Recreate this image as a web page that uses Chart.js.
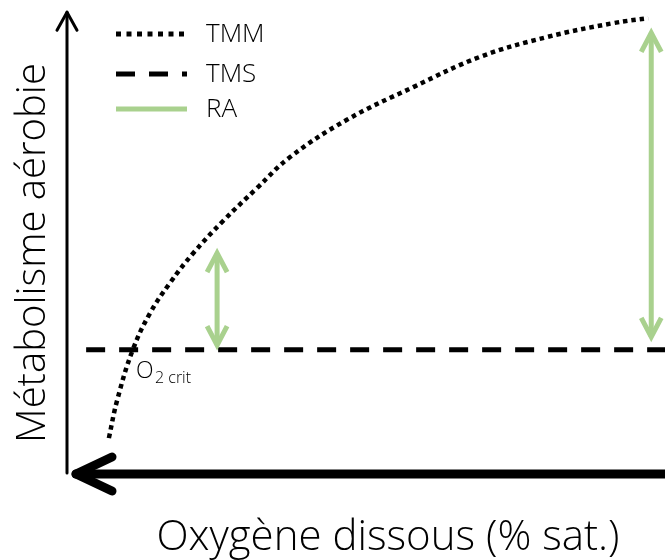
<!DOCTYPE html>
<html lang="fr">
<head>
<meta charset="utf-8">
<title>Métabolisme aérobie</title>
<script src="https://cdn.jsdelivr.net/npm/chart.js@4.4.1/dist/chart.umd.min.js"></script>
<style>
  html, body { margin: 0; padding: 0; background: #fff; }
  #cadre { width: 665px; height: 560px; }
</style>
</head>
<body>
<div id="cadre"><canvas id="schema" width="665" height="560"></canvas></div>
<script>
// Courbe TMM (taux métabolique maximal) en fonction de l'oxygène dissous
const tmmX = [7.0, 8.4, 11.0, 13.9, 17.2, 21.1, 26.1, 31.8, 37.3, 46.8, 57.9, 69.1, 80.3, 91.3, 97.2];
const tmmY = [7.8, 16.1, 27.0, 35.0, 41.5, 48.0, 55.0, 62.2, 68.9, 77.0, 84.1, 90.7, 95.0, 98.0, 99.1];

// TMS (taux métabolique standard), constant
const tmsX = [3.2, 100];
const tmsY = 27.0;

// Flèches RA (registre aérobie) : position et bornes
const raX = [25.1, 97.7];
const raBas = [28.0, 29.8];
const raHaut = [48.0, 95.9];

const legende = ['TMM', 'TMS', 'RA'];
const titreX = 'Oxygène dissous (% sat.)';
const titreY = 'Métabolisme aérobie';

const vert = '#a9d18e';
const police = '"Open Sans", "DejaVu Sans", sans-serif';

// points de la flèche RA : deux segments séparés par un trou
const raPoints = [];
raX.forEach((x, i) => {
    raPoints.push({ x: x, y: raBas[i] });
    raPoints.push({ x: x, y: raHaut[i] });
    if (i < raX.length - 1) raPoints.push({ x: (x + raX[i + 1]) / 2, y: null });
});

/**
 * Trace une pointe de flèche ouverte (chevron)
 */
function chevron(ctx, x, y, dx, dy, sens) {
    ctx.beginPath();
    if (sens === 'haut' || sens === 'bas') {
        const s = sens === 'haut' ? 1 : -1;
        ctx.moveTo(x - dx, y + s * dy);
        ctx.lineTo(x, y);
        ctx.lineTo(x + dx, y + s * dy);
    } else {
        ctx.moveTo(x + dx, y - dy);
        ctx.lineTo(x, y);
        ctx.lineTo(x + dx, y + dy);
    }
    ctx.stroke();
}

// axes fléchés, pointes RA, légende et textes
const decor = {
    id: 'decor',
    beforeDatasetsDraw(chart) {
        const ctx = chart.ctx;
        const sx = chart.scales.x, sy = chart.scales.y;
        const x0 = sx.getPixelForValue(0), y0 = sy.getPixelForValue(0);
        ctx.save();
        ctx.strokeStyle = '#000';
        ctx.lineJoin = 'round';
        ctx.lineCap = 'round';
        // axe vertical
        ctx.lineWidth = 3;
        ctx.beginPath();
        ctx.moveTo(x0, y0 - 1);
        ctx.lineTo(x0, sy.getPixelForValue(100.4));
        ctx.stroke();
        chevron(ctx, x0, sy.getPixelForValue(100.4), 10, 18, 'haut');
        // axe horizontal, pointe vers la gauche
        const bout = x0 + 9;
        ctx.lineWidth = 9;
        ctx.beginPath();
        ctx.moveTo(sx.getPixelForValue(100) + 10, y0);
        ctx.lineTo(bout, y0);
        ctx.stroke();
        chevron(ctx, bout, y0, 36, 17, 'gauche');
        ctx.restore();
    },
    afterDatasetsDraw(chart) {
        const ctx = chart.ctx;
        const sx = chart.scales.x, sy = chart.scales.y;
        ctx.save();
        // pointes des flèches RA
        ctx.strokeStyle = vert;
        ctx.lineWidth = 5;
        ctx.lineJoin = 'miter';
        ctx.lineCap = 'butt';
        raX.forEach((x, i) => {
            const px = sx.getPixelForValue(x);
            chevron(ctx, px, sy.getPixelForValue(raHaut[i]), 10, 19, 'haut');
            chevron(ctx, px, sy.getPixelForValue(raBas[i]), 10, 19, 'bas');
        });

        // légende
        const styles = [
            { couleur: '#000', largeur: 5, tirets: [5, 5.5] },
            { couleur: '#000', largeur: 5, tirets: [19, 14] },
            { couleur: vert, largeur: 5, tirets: [] }
        ];
        const lignesY = [34, 74, 109];
        ctx.textBaseline = 'middle';
        ctx.textAlign = 'left';
        ctx.font = '300 26px ' + police;
        legende.forEach((nom, i) => {
            const st = styles[i];
            ctx.strokeStyle = st.couleur;
            ctx.lineWidth = st.largeur;
            ctx.setLineDash(st.tirets);
            ctx.beginPath();
            ctx.moveTo(116, lignesY[i]);
            ctx.lineTo(187, lignesY[i]);
            ctx.stroke();
            ctx.setLineDash([]);
            ctx.fillStyle = '#000';
            ctx.fillText(nom, 206, lignesY[i] + 1);
        });

        // étiquette O2 crit
        ctx.textBaseline = 'alphabetic';
        ctx.font = '300 23px ' + police;
        ctx.fillText('O', 136, 378);
        ctx.font = '300 16px ' + police;
        ctx.fillText('2 crit', 155, 383);

        // titres des axes
        ctx.font = '300 42px ' + police;
        ctx.textAlign = 'center';
        ctx.textBaseline = 'middle';
        ctx.fillText(titreX, 388, 538);
        ctx.font = '300 40px ' + police;
        ctx.translate(34, 253);
        ctx.rotate(-Math.PI / 2);
        ctx.fillText(titreY, 0, 0);
        ctx.restore();
    }
};

new Chart(document.getElementById('schema').getContext('2d'), {
    type: 'line',
    data: {
        datasets: [
            {
                label: legende[0],
                data: tmmX.map((x, i) => ({ x: x, y: tmmY[i] })),
                borderColor: '#000',
                borderWidth: 4.5,
                borderDash: [4.5, 4],
                borderCapStyle: 'butt',
                tension: 0.4,
                pointRadius: 0
            },
            {
                label: legende[1],
                data: tmsX.map(x => ({ x: x, y: tmsY })),
                borderColor: '#000',
                borderWidth: 5,
                borderDash: [19, 14],
                pointRadius: 0
            },
            {
                label: legende[2],
                data: raPoints,
                borderColor: vert,
                borderWidth: 5,
                spanGaps: false,
                pointRadius: 0
            }
        ]
    },
    options: {
        responsive: false,
        animation: false,
        layout: { padding: { left: 67, right: 0, top: 14, bottom: 86 } },
        scales: {
            x: { type: 'linear', min: 0, max: 100, display: false },
            y: { type: 'linear', min: 0, max: 100, display: false }
        },
        plugins: {
            legend: { display: false },
            tooltip: { enabled: false }
        }
    },
    plugins: [decor]
});
</script>
</body>
</html>
